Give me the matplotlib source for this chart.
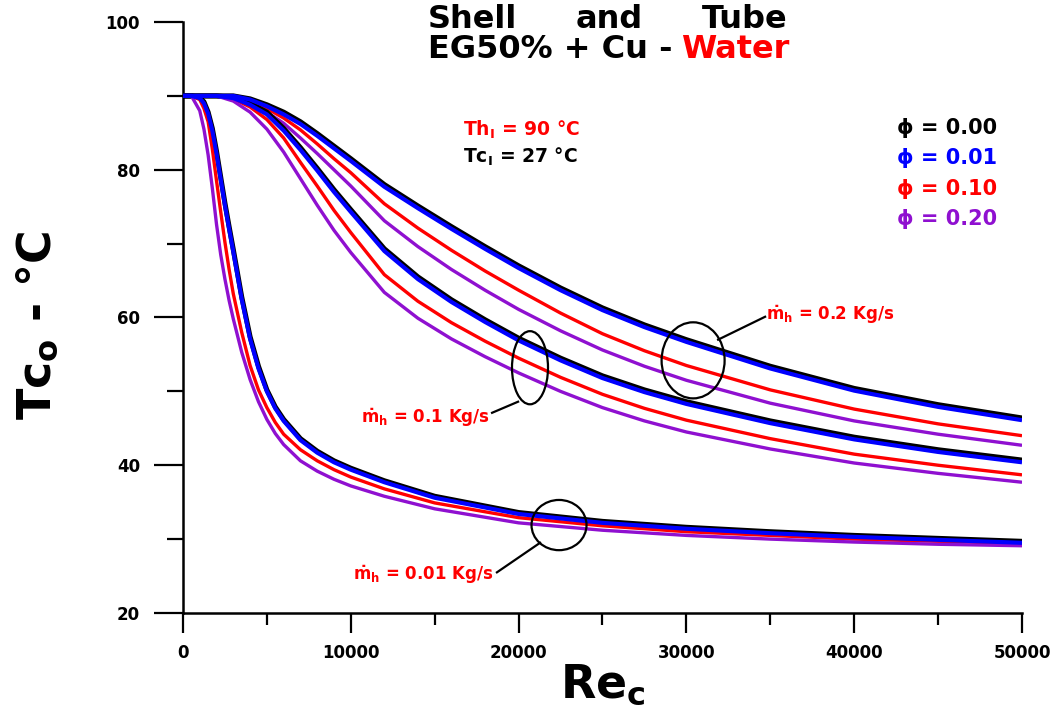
import numpy as np
import matplotlib.pyplot as plt
from matplotlib.patches import Ellipse

plt.rcParams['font.family'] = 'DejaVu Sans'
plt.rcParams['font.weight'] = 'bold'
plt.rcParams['mathtext.fontset'] = 'dejavusans'

# Re_c grid for the 0.2 and 0.1 kg/s curves
re_hi = [0, 2000, 3000, 4000, 5000, 6000, 7000, 8000, 9000, 10000, 12000, 14000,
         16000, 18000, 20000, 22500, 25000, 27500, 30000, 35000, 40000, 45000, 50000]
# Re_c grid for the 0.01 kg/s curves
re_lo = [0, 500, 1000, 1250, 1500, 1750, 2000, 2250, 2500, 2750, 3000, 3500, 4000,
         4500, 5000, 5500, 6000, 7000, 8000, 9000, 10000, 12000, 15000, 20000,
         25000, 30000, 35000, 40000, 45000, 50000]

# mh = 0.2 kg/s
t02_phi000 = [90, 90, 90, 89.6, 88.8, 87.8, 86.5, 84.9, 83.2, 81.5, 78.0, 75.1,
              72.3, 69.6, 67.0, 64.0, 61.3, 59.0, 57.0, 53.4, 50.4, 48.2, 46.4]
t02_phi001 = [90, 90, 90, 89.5, 88.6, 87.5, 86.2, 84.6, 82.9, 81.2, 77.7, 74.8,
              72.0, 69.3, 66.7, 63.7, 61.0, 58.7, 56.7, 53.1, 50.1, 47.9, 46.1]
t02_phi010 = [90, 90, 89.9, 89.3, 88.3, 87.0, 85.4, 83.5, 81.5, 79.6, 75.4, 72.1,
              69.1, 66.3, 63.7, 60.6, 57.8, 55.5, 53.5, 50.2, 47.6, 45.6, 44.0]
t02_phi020 = [90, 90, 89.8, 89.0, 87.8, 86.3, 84.3, 82.2, 80.0, 77.8, 73.1, 69.6,
              66.5, 63.7, 61.1, 58.2, 55.6, 53.4, 51.5, 48.4, 46.0, 44.2, 42.7]

# mh = 0.1 kg/s
t01_phi000 = [90, 90, 89.8, 89.0, 87.8, 85.6, 83.0, 80.2, 77.3, 74.6, 69.3, 65.5,
              62.4, 59.7, 57.2, 54.5, 52.1, 50.2, 48.6, 46.0, 43.8, 42.1, 40.7]
t01_phi001 = [90, 90, 89.7, 88.8, 87.5, 85.3, 82.7, 79.9, 77.0, 74.3, 69.0, 65.2,
              62.1, 59.4, 56.9, 54.2, 51.8, 49.9, 48.3, 45.7, 43.5, 41.8, 40.4]
t01_phi010 = [90, 90, 89.6, 88.5, 86.8, 84.3, 81.0, 77.8, 74.5, 71.5, 65.8, 62.2,
              59.3, 56.8, 54.5, 51.9, 49.6, 47.7, 46.1, 43.6, 41.5, 40.0, 38.7]
t01_phi020 = [90, 90, 89.3, 87.8, 85.5, 82.4, 78.8, 75.2, 71.8, 68.8, 63.4, 59.9,
              57.1, 54.7, 52.5, 50.0, 47.8, 46.0, 44.5, 42.2, 40.3, 38.9, 37.7]

# mh = 0.01 kg/s
t001_phi000 = [90, 90, 89.8, 89.2, 87.8, 85.6, 82.5, 79.0, 75.5, 72.3, 69.2, 62.8,
               57.4, 53.4, 50.2, 47.9, 46.2, 43.6, 41.9, 40.6, 39.6, 37.9, 35.8,
               33.6, 32.4, 31.6, 31.0, 30.5, 30.1, 29.7]
t001_phi001 = [90, 90, 89.7, 89.0, 87.6, 85.3, 82.2, 78.7, 75.2, 72.0, 68.9, 62.5,
               57.1, 53.1, 50.0, 47.7, 46.0, 43.4, 41.7, 40.4, 39.4, 37.7, 35.6,
               33.4, 32.2, 31.4, 30.8, 30.3, 29.9, 29.5]
t001_phi010 = [90, 90, 89.5, 88.3, 86.5, 82.8, 78.5, 74.3, 70.2, 66.5, 63.2, 58.0,
               53.5, 50.2, 47.8, 45.8, 44.2, 42.1, 40.6, 39.4, 38.4, 36.8, 34.9,
               32.9, 31.8, 31.0, 30.5, 30.0, 29.7, 29.4]
t001_phi020 = [90, 90, 88.0, 85.5, 82.0, 77.5, 72.6, 68.5, 65.2, 62.3, 59.8, 55.3,
               51.6, 48.6, 46.2, 44.3, 42.8, 40.6, 39.2, 38.1, 37.2, 35.8, 34.1,
               32.2, 31.2, 30.5, 30.0, 29.6, 29.3, 29.1]

phi_labels = ['0.00', '0.01', '0.10', '0.20']
phi_colors = ['black', '#0000ff', '#ff0000', '#8f10d0']
flow_labels = ['0.2', '0.1', '0.01']

groups = [
    (re_hi, [t02_phi000, t02_phi001, t02_phi010, t02_phi020]),
    (re_hi, [t01_phi000, t01_phi001, t01_phi010, t01_phi020]),
    (re_lo, [t001_phi000, t001_phi001, t001_phi010, t001_phi020]),
]

fig = plt.figure(figsize=(10.57, 7.13), dpi=100)
ax = fig.add_axes([0.1731, 0.1403, 0.7938, 0.8288])

widths = [3.6, 3.0, 2.4, 2.4]
for re_vals, curves in groups:
    for k, t in enumerate(curves):
        ax.plot(re_vals, t, color=phi_colors[k], lw=widths[k],
                solid_capstyle='butt', solid_joinstyle='round',
                zorder=3 + (k if k < 2 else 0))

ax.set_xlim(0, 50000)
ax.set_ylim(20, 100)
ax.set_xticks(np.arange(0, 50001, 10000))
ax.set_xticks(np.arange(5000, 50000, 10000), minor=True)
ax.set_yticks(np.arange(20, 101, 20))
ax.set_yticks(np.arange(30, 100, 20), minor=True)

for s in ['top', 'right']:
    ax.spines[s].set_visible(False)
for s in ['left', 'bottom']:
    ax.spines[s].set_linewidth(1.8)

ax.tick_params(axis='y', which='major', direction='out', length=21, width=1.6,
               labelsize=12, pad=10)
ax.tick_params(axis='y', which='minor', direction='out', length=11.5, width=1.6)
ax.tick_params(axis='x', which='major', direction='out', length=14.5, width=1.6,
               labelsize=12, pad=8)
ax.tick_params(axis='x', which='minor', direction='out', length=8.5, width=1.6)
for lab in ax.get_xticklabels() + ax.get_yticklabels():
    lab.set_fontweight('bold')

ax.set_xlabel(r'Re$_\mathbf{c}$', fontsize=33, fontweight='bold', labelpad=0)
fig.text(38 / 1057, 1 - 326 / 713, r'Tc$_\mathbf{o}$ - °C', fontsize=33,
         rotation=90, ha='center', va='center')

# title block
fig.text(428 / 1057, 1 - 20 / 713, 'Shell', fontsize=23, va='center', ha='left')
fig.text(576 / 1057, 1 - 20 / 713, 'and', fontsize=23, va='center', ha='left')
fig.text(702 / 1057, 1 - 20 / 713, 'Tube', fontsize=23, va='center', ha='left')
t1 = fig.text(428 / 1057, 1 - 49 / 713, 'EG50% + Cu -', fontsize=23,
              va='center', ha='left')
fig.canvas.draw()
x_end = t1.get_window_extent().x1
fig.text((x_end + 9) / 1057, 1 - 49 / 713, 'Water', fontsize=23, va='center',
         ha='left', color='#ff0000')

# inlet temperatures
fig.text(463 / 1057, 1 - 130 / 713, r'Th$_\mathbf{I}$ = 90 °C', fontsize=13.5,
         va='center', color='#ff0000')
fig.text(463 / 1057, 1 - 157 / 713, r'Tc$_\mathbf{I}$ = 27 °C', fontsize=13.5,
         va='center', color='black')

# phi key
for k, lab in enumerate(phi_labels):
    fig.text(897 / 1057, 1 - (128 + 30.3 * k) / 713, '\u03d5 = ' + lab,
             fontsize=15, va='center', color=phi_colors[k])

# flow-rate callouts
ell_kw = dict(fill=False, edgecolor='black', lw=1.6, zorder=6)
ax.add_patch(Ellipse((30400, 54.2), 3755, 10.3, **ell_kw))
ax.add_patch(Ellipse((20680, 53.2), 2146, 9.9, **ell_kw))
ax.add_patch(Ellipse((22410, 31.9), 3278, 6.8, **ell_kw))

ax.plot([31890, 34690], [57.0, 60.1], color='black', lw=1.6, zorder=6)
ax.plot([19970, 18420], [48.6, 47.1], color='black', lw=1.6, zorder=6)
ax.plot([21280, 18710], [29.5, 25.5], color='black', lw=1.6, zorder=6)

ax.text(34750, 60.4, r'$\mathbf{\dot{m}_h}$ = ' + flow_labels[0] + ' Kg/s',
        fontsize=12, color='#ff0000', ha='left', va='center')
ax.text(18300, 46.4, r'$\mathbf{\dot{m}_h}$ = ' + flow_labels[1] + ' Kg/s',
        fontsize=12, color='#ff0000', ha='right', va='center')
ax.text(18480, 25.1, r'$\mathbf{\dot{m}_h}$ = ' + flow_labels[2] + ' Kg/s',
        fontsize=12, color='#ff0000', ha='right', va='center')

fig.savefig('out.png', dpi=100)
